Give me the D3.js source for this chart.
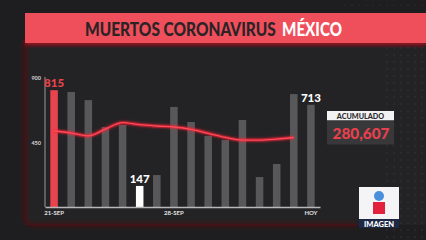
<!DOCTYPE html>
<html>
<head>
<meta charset="utf-8">
<script src="https://cdn.jsdelivr.net/npm/d3@7"></script>
<style>
  html, body { margin: 0; padding: 0; background: #1e1e20; }
  svg { display: block; font-family: "Lato", "Open Sans", sans-serif; }
</style>
</head>
<body>
<svg id="chart" width="426" height="240"></svg>
<script>
// datos
const fechas = ["21-SEP", "22-SEP", "23-SEP", "24-SEP", "25-SEP", "26-SEP", "27-SEP", "28-SEP",
    "29-SEP", "30-SEP", "01-OCT", "02-OCT", "03-OCT", "04-OCT", "05-OCT", "HOY"];
const muertes = [815, 802, 746, 558, 572, 147, 223, 698, 593, 495, 467, 607, 209, 300, 788, 713];
// promedio movil (linea roja), termina un dia antes de HOY
const promedio = [532, 516, 497, 544, 588, 574, 565, 558, 542, 514, 485, 467, 467, 474, 485];
const ticksX = ["21-SEP", "28-SEP", "HOY"];
const ticksY = [450, 900];
const destacados = {0: "815", 5: "147", 15: "713"};
const acumulado = "280,607";

const svg = d3.select("#chart");
const defs = svg.append("defs");

const glow = defs.append("filter").attr("id", "glow")
    .attr("x", "-20%").attr("y", "-50%").attr("width", "140%").attr("height", "200%");
glow.append("feGaussianBlur").attr("stdDeviation", 1.6).attr("result", "b");
const merge = glow.append("feMerge");
merge.append("feMergeNode").attr("in", "b");
merge.append("feMergeNode").attr("in", "SourceGraphic");

const sombra = defs.append("filter").attr("id", "sombra")
    .attr("x", "-5%").attr("y", "-50%").attr("width", "110%").attr("height", "200%");
sombra.append("feGaussianBlur").attr("stdDeviation", 2);

// fondo
svg.append("rect").attr("width", 426).attr("height", 240).attr("fill", "#1e1e20");
svg.append("rect").attr("x", 25).attr("y", 13).attr("width", 401).attr("height", 212)
    .attr("fill", "#232325");

// puntos a la derecha
const dots = svg.append("g").attr("fill", "#3a3a3e");
for (let px = 387; px < 426; px += 7) {
    for (let py = 48; py < 240; py += 7) {
        dots.append("circle").attr("cx", px).attr("cy", py).attr("r", 0.7);
    }
}
for (let px = 345; px < 426; px += 7) {
    dots.append("circle").attr("cx", px).attr("cy", 5).attr("r", 0.6);
}

// borde del panel
const borde = "M25,43 L25,217 Q25,225 33,225 L357,225";
svg.append("path").attr("d", borde).attr("fill", "none")
    .attr("stroke", "#6a0c16").attr("stroke-width", 2.5).attr("stroke-opacity", 0.7)
    .attr("filter", "url(#sombra)");
svg.append("path").attr("d", borde).attr("fill", "none")
    .attr("stroke", "#4e1016").attr("stroke-width", 1);

// titulo
svg.append("rect").attr("x", 25).attr("y", 40).attr("width", 401).attr("height", 5)
    .attr("fill", "#b0101c").attr("filter", "url(#sombra)");
svg.append("rect").attr("x", 25).attr("y", 13).attr("width", 401).attr("height", 30)
    .attr("fill", "#ef4f5b");

// texto ajustado a un ancho con scaleX, para que su caja coincida
function textoAncho(txt, x0, ancho, color) {
    const t = svg.append("text").attr("x", 0).attr("y", 0)
        .attr("font-size", 18).attr("font-weight", 900).attr("fill", color).text(txt);
    const k = ancho / t.node().getComputedTextLength();
    t.attr("transform", `translate(${x0},35.5) scale(${k},1)`);
}
textoAncho("MUERTOS CORONAVIRUS", 85, 191, "#2b2326");
textoAncho("MÉXICO", 282, 60, "#ffffff");

// escalas
const x = d3.scaleBand().domain(d3.range(fechas.length)).range([45, 320])
    .paddingInner(0.56).paddingOuter(0.31);
const y = d3.scaleLinear().domain([0, 900]).range([207, 78]);

// barras
svg.append("g").selectAll("rect").data(muertes).join("rect")
    .attr("x", (d, i) => x(i))
    .attr("y", d => y(d))
    .attr("width", x.bandwidth())
    .attr("height", d => y(0) - y(d))
    .attr("fill", (d, i) => i === 0 ? "#e8444f" : i === 5 ? "#ffffff" : "#58585a");

// ejes
const ejeY = svg.append("g").attr("transform", "translate(45,0)")
    .call(d3.axisLeft(y).tickValues(ticksY).tickSize(0).tickPadding(4));
ejeY.select(".domain").attr("stroke", "#9a9a9c").attr("stroke-width", 1)
    .attr("d", `M0,${y(900) - 1}V${y(0)}`);
ejeY.selectAll("text").attr("fill", "#d8d8d8").attr("font-size", 5.5)
    .attr("font-family", "Lato, sans-serif").attr("font-weight", 700);

const idx = ticksX.map(t => fechas.indexOf(t));
const ejeX = svg.append("g").attr("transform", "translate(0,207)")
    .call(d3.axisBottom(x).tickValues(idx).tickFormat(i => fechas[i]).tickSize(0).tickPadding(4));
ejeX.select(".domain").attr("stroke", "#b8b8ba").attr("stroke-width", 1.6);
ejeX.selectAll("text").attr("fill", "#e0e0e0").attr("font-size", 6)
    .attr("font-family", "Lato, sans-serif").attr("font-weight", 700);

// linea promedio
const linea = d3.line()
    .x((d, i) => x(i) + x.bandwidth() / 2)
    .y(d => y(d))
    .curve(d3.curveMonotoneX);
svg.append("path").datum(promedio).attr("d", linea).attr("fill", "none")
    .attr("stroke", "#ff1f35").attr("stroke-width", 3.5).attr("stroke-opacity", 0.45)
    .attr("filter", "url(#glow)");
svg.append("path").datum(promedio).attr("d", linea).attr("fill", "none")
    .attr("stroke", "#ff4a58").attr("stroke-width", 1.3);

// etiquetas de barras
svg.append("g").selectAll("text").data(Object.keys(destacados).map(Number)).join("text")
    .attr("x", i => x(i) + x.bandwidth() / 2)
    .attr("y", i => y(muertes[i]) - 3)
    .attr("text-anchor", "middle")
    .attr("font-size", 11.5).attr("font-weight", 900)
    .attr("fill", i => i === 0 ? "#e8444f" : "#ffffff")
    .text(i => destacados[i]);

// acumulado
svg.append("rect").attr("x", 327).attr("y", 111).attr("width", 67).attr("height", 9.5)
    .attr("fill", "#f2f2f2");
svg.append("text").attr("x", 360.5).attr("y", 118.5).attr("text-anchor", "middle")
    .attr("font-size", 7.2).attr("font-weight", 900).attr("fill", "#2a2a2c")
    .text("ACUMULADO");
svg.append("rect").attr("x", 327).attr("y", 120.5).attr("width", 67).attr("height", 24)
    .attr("fill", "#38383b");
svg.append("text").attr("x", 361).attr("y", 139).attr("text-anchor", "middle")
    .attr("font-size", 15.5).attr("font-weight", 900).attr("fill", "#e8404c")
    .attr("textLength", 57).attr("lengthAdjust", "spacingAndGlyphs")
    .text(acumulado);

// logo
svg.append("rect").attr("x", 359).attr("y", 187).attr("width", 40).attr("height", 32)
    .attr("fill", "#f4f4f6");
svg.append("rect").attr("x", 359).attr("y", 219).attr("width", 40).attr("height", 9)
    .attr("fill", "#1d2847");
svg.append("circle").attr("cx", 379).attr("cy", 196).attr("r", 5).attr("fill", "#4a8fdc");
svg.append("rect").attr("x", 373).attr("y", 202).attr("width", 12).attr("height", 12)
    .attr("fill", "#e3213c");
svg.append("text").attr("x", 379).attr("y", 226.5).attr("text-anchor", "middle")
    .attr("font-size", 7.5).attr("font-weight", 900).attr("fill", "#ffffff")
    .text("IMAGEN");
</script>
</body>
</html>
